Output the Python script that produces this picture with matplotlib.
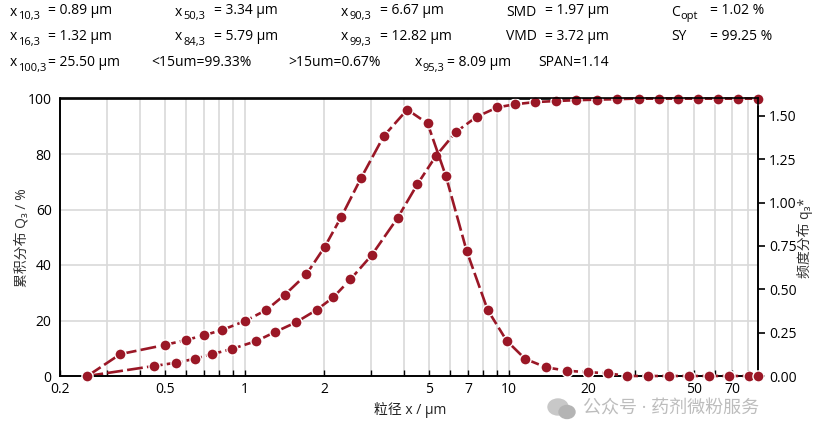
import matplotlib
matplotlib.use('Agg')
import matplotlib.pyplot as plt
from matplotlib.patches import Ellipse

plt.rcParams['font.family'] = ['Open Sans', 'Noto Sans CJK SC', 'DejaVu Sans']

# cumulative distribution Q3 (left axis, %)
size_cum = [0.254, 0.453, 0.551, 0.648, 0.755, 0.898, 1.107, 1.30, 1.56, 1.87,
            2.16, 2.51, 3.02, 3.79, 4.50, 5.29, 6.29, 7.54, 9.03, 10.5,
            12.5, 15.1, 18.0, 21.6, 25.6, 30.9, 36.8, 43.7, 52.1, 62.0, 73.8, 87.5]
q3_cum = [0, 3.6, 4.8, 6.2, 7.9, 9.8, 12.6, 15.8, 19.3, 23.8,
          28.3, 34.8, 43.5, 57.0, 69.1, 79.3, 87.9, 93.4, 96.8, 97.9,
          98.7, 99.1, 99.4, 99.6, 99.75, 100, 100, 100, 100, 100, 100, 100]

# density distribution q3* (right axis)
size_freq = [0.254, 0.338, 0.499, 0.601, 0.699, 0.823, 1.006, 1.208, 1.42, 1.71,
             2.01, 2.32, 2.75, 3.36, 4.12, 4.92, 5.77, 6.91, 8.30, 9.80,
             11.5, 13.8, 16.6, 19.9, 23.6, 28.0, 33.7, 40.3, 47.9, 57.1, 68.0, 81.0, 87.5]
q3_freq = [0, 0.126, 0.179, 0.208, 0.234, 0.266, 0.318, 0.381, 0.469, 0.586,
           0.746, 0.918, 1.139, 1.384, 1.536, 1.456, 1.152, 0.722, 0.381, 0.203,
           0.099, 0.050, 0.030, 0.022, 0.016, 0, 0, 0, 0, 0, 0, 0, 0]

xtick_vals = [0.2, 0.5, 1, 2, 5, 7, 10, 20, 50, 70]
xtick_labels = ['0.2', '0.5', '1', '2', '5', '7', '10', '20', '50', '70']
grid_vals = [0.3, 0.4, 0.5, 0.6, 0.7, 0.8, 0.9, 1, 2, 3, 4, 5, 6, 7, 8, 9, 10,
             20, 30, 40, 50, 60, 70, 80]
left_ticks = [0, 20, 40, 60, 80, 100]
right_ticks = [0, 0.25, 0.5, 0.75, 1.0, 1.25, 1.5]

# header results: (x, row, main, sub, value text, value x)
header = [
    (10, 0, 'x', '10,3', '= 0.89 µm', 48),
    (175, 0, 'x', '50,3', '= 3.34 µm', 214),
    (341, 0, 'x', '90,3', '= 6.67 µm', 380),
    (506, 0, 'SMD', '', '= 1.97 µm', 545),
    (671, 0, 'C', 'opt', '= 1.02 %', 710),
    (10, 1, 'x', '16,3', '= 1.32 µm', 48),
    (175, 1, 'x', '84,3', '= 5.79 µm', 214),
    (341, 1, 'x', '99,3', '= 12.82 µm', 380),
    (506, 1, 'VMD', '', '= 3.72 µm', 545),
    (671, 1, 'SY', '', '= 99.25 %', 710),
    (10, 2, 'x', '100,3', '= 25.50 µm', 48),
    (151, 2, '<15um=99.33%', '', '', 0),
    (288, 2, '>15um=0.67%', '', '', 0),
    (415, 2, 'x', '95,3', '= 8.09 µm', 447),
    (538, 2, 'SPAN=1.14', '', '', 0),
]

color = '#9a1726'
W, H = 836, 422

fig = plt.figure(figsize=(W / 100, H / 100), dpi=100)

def fx(x):
    return x / W

def fy(y):
    return 1 - y / H

ax = fig.add_axes([fx(60), fy(376), (758 - 60) / W, (376 - 98.5) / H])
ax.set_xscale('log')
ax.set_xlim(0.2, 87.5)
ax.set_ylim(0, 100)

for g in grid_vals:
    ax.axvline(g, color='#d9d9d9', lw=1.2, zorder=0)
for t in left_ticks[1:-1]:
    ax.axhline(t, color='#d9d9d9', lw=1.2, zorder=0)

ax.set_xticks(grid_vals, minor=True)
ax.xaxis.set_minor_formatter(plt.NullFormatter())
ax.set_xticks(xtick_vals)
ax.set_xticklabels(xtick_labels)
ax.tick_params(axis='x', which='both', direction='in', length=4, width=1,
               labelsize=10, pad=4)
ax.set_yticks(left_ticks)
ax.tick_params(axis='y', length=0, labelsize=10, pad=6)
for s in ax.spines.values():
    s.set_linewidth(1.2)

ax.plot(size_cum, q3_cum, color=color, lw=1.9, dashes=(6, 1.6),
        marker='o', ms=8, mfc=color, mec='white', mew=1.0, clip_on=False, zorder=3)

ax2 = ax.twinx()
ax2.set_ylim(0, 1.6)
ax2.set_yticks(right_ticks)
ax2.set_yticklabels(['0.00', '0.25', '0.50', '0.75', '1.00', '1.25', '1.50'])
ax2.tick_params(axis='y', direction='out', length=5, width=1.2, labelsize=10, pad=3)
ax2.plot(size_freq, q3_freq, color=color, lw=1.9, dashes=(6, 1.6),
         marker='o', ms=8, mfc=color, mec='white', mew=1.0, clip_on=False, zorder=3)
for s in ax2.spines.values():
    s.set_linewidth(1.2)

# axis labels
fig.text(fx(22), fy(238), '累积分布 Q₃ / %', rotation=90, ha='center', va='center',
         fontsize=10, color='#333333')
fig.text(fx(805), fy(238), '频度分布 q₃*', rotation=90, ha='center', va='center',
         fontsize=10, color='#333333')
fig.text(fx(410), fy(410), '粒径 x / µm', ha='center', va='center', fontsize=10,
         color='#222222')

# header text
row_y = [12, 37, 63]
for x, row, main, sub, val, vx in header:
    y = row_y[row]
    fig.text(fx(x), fy(y), main, ha='left', va='center', fontsize=10)
    if sub:
        off = 8 if main == 'x' else 9
        fig.text(fx(x + off), fy(y + 5), sub, ha='left', va='center', fontsize=8)
    if val:
        fig.text(fx(vx), fy(y - 1), val, ha='left', va='center', fontsize=10)

# watermark (kept just below the tick labels)
fig.text(fx(583), fy(409), '公众号 · 药剂微粉服务', ha='left', va='center',
         fontsize=13, color='#bdbdbd')
wax = fig.add_axes([fx(546), fy(420), 32 / W, 22 / H])
wax.set_xlim(0, 32)
wax.set_ylim(0, 22)
wax.axis('off')
wax.add_patch(Ellipse((12, 13), 20, 16, color='#c8c8c8'))
wax.add_patch(Ellipse((21, 8), 16, 13, color='#b4b4b4'))

fig.savefig('out.png', dpi=100)
